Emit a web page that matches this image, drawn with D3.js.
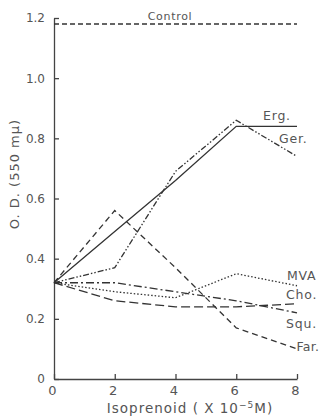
<!DOCTYPE html>
<html>
<head>
<meta charset="utf-8">
<script src="https://cdn.jsdelivr.net/npm/d3@7"></script>
<style>
  body { margin: 0; background: #fff; }
  svg text { font-family: "DejaVu Sans", sans-serif; fill: #555; }
  .axis path, .axis line { stroke: #444; stroke-width: 1.3; }
  .axis text { font-size: 12px; fill: #555; }
  .series { fill: none; stroke: #333; stroke-width: 1.3; }
</style>
</head>
<body>
<div id="chart"></div>
<script>
// data
var doses = [0, 2, 4, 6, 8];
var erg = [0.32, 0.49, 0.66, 0.84, 0.84];
var ger = [0.32, 0.37, 0.69, 0.86, 0.74];
var mva = [0.32, 0.29, 0.27, 0.35, 0.31];
var cho = [0.32, 0.32, 0.29, 0.26, 0.22];
var squ = [0.32, 0.26, 0.24, 0.24, 0.25];
var far = [0.32, 0.56, 0.37, 0.17, 0.10];
var control = 1.18;
var xTicks = [0, 2, 4, 6, 8];
var yTicks = [0, 0.2, 0.4, 0.6, 0.8, 1.0, 1.2];

var series = [
  {name: "Erg.", values: erg, dash: null,            lx: 6.88, ly: 0.86},
  {name: "Ger.", values: ger, dash: "6,2,1.5,2,1.5,2", lx: 7.41, ly: 0.785},
  {name: "MVA",  values: mva, dash: "1.5,2",         lx: 7.67, ly: 0.33},
  {name: "Cho.", values: cho, dash: "8,3,2,3",       lx: 7.64, ly: 0.266},
  {name: "Squ.", values: squ, dash: "9,4",           lx: 7.64, ly: 0.17},
  {name: "Far.", values: far, dash: "6,4",           lx: 7.98, ly: 0.093}
];

var W = 323, H = 417;
var svg = d3.select("#chart").append("svg")
    .attr("width", W)
    .attr("height", H);

var x = d3.scaleLinear().domain([0, 8]).range([54, 297]);
var y = d3.scaleLinear().domain([0, 1.2]).range([379, 18]);

// axes, ticks pointing inward
var yAxis = d3.axisLeft(y)
    .tickValues(yTicks)
    .tickSizeInner(-5)
    .tickSizeOuter(0)
    .tickPadding(9)
    .tickFormat(function(d){ return d === 0 ? "0" : d3.format(".1f")(d); });
svg.append("g")
   .attr("class", "y axis")
   .attr("transform", "translate(" + x(0) + ",0)")
   .call(yAxis);

var xAxis = d3.axisBottom(x)
    .tickValues(xTicks)
    .tickSizeInner(-5)
    .tickSizeOuter(0)
    .tickPadding(7)
    .tickFormat(d3.format("d"));
svg.append("g")
   .attr("class", "x axis")
   .attr("transform", "translate(0," + y(0) + ")")
   .call(xAxis)
   .selectAll("text")
   .attr("dx", "-2px")
   .style("font-size", "13px");

// control line
svg.append("line")
   .attr("class", "series")
   .attr("x1", x(0)).attr("x2", x(8))
   .attr("y1", y(control)).attr("y2", y(control))
   .attr("stroke-dasharray", "5,3");
svg.append("text")
   .attr("x", x(3.82))
   .attr("y", y(1.193))
   .attr("text-anchor", "middle")
   .style("font-size", "11px")
   .style("letter-spacing", "0.7px")
   .text("Control");

var line = d3.line()
    .x(function(d, i){ return x(doses[i]); })
    .y(function(d){ return y(d); });

svg.append("g")
   .selectAll("path")
   .data(series)
   .enter()
   .append("path")
   .attr("class", "series")
   .attr("stroke-dasharray", function(d){ return d.dash; })
   .attr("d", function(d){ return line(d.values); });

svg.append("g")
   .selectAll("text")
   .data(series)
   .enter()
   .append("text")
   .attr("x", function(d){ return x(d.lx); })
   .attr("y", function(d){ return y(d.ly); })
   .style("font-size", "12.5px")
   .style("letter-spacing", function(d){ return d.name === "Far." ? "0.3px" : "0.8px"; })
   .text(function(d){ return d.name; });

// axis titles
var xt = svg.append("text")
   .attr("x", 190)
   .attr("y", 413)
   .attr("text-anchor", "middle")
   .style("font-size", "13.5px")
   .style("letter-spacing", "1px");
xt.append("tspan").text("Isoprenoid ( X 10");
xt.append("tspan").attr("dy", -5).style("font-size", "9px").text("\u22125");
xt.append("tspan").attr("dy", 5).text("M)");

svg.append("text")
   .attr("transform", "translate(19,174) rotate(-90)")
   .attr("text-anchor", "middle")
   .style("font-size", "13px")
   .style("letter-spacing", "1px")
   .text("O. D.  (550 m\u03bc)");
</script>
</body>
</html>
